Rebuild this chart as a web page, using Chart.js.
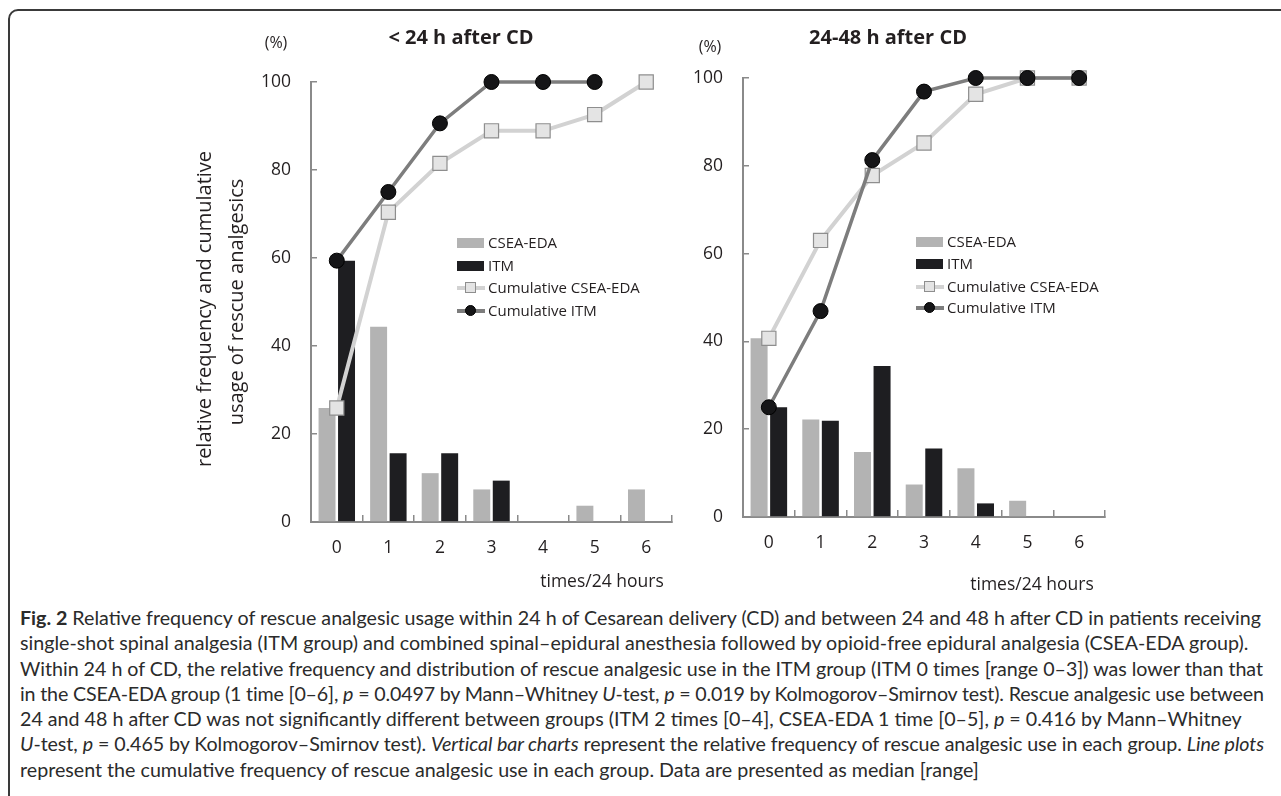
<!DOCTYPE html>
<html>
<head>
<meta charset="utf-8">
<script src="https://cdn.jsdelivr.net/npm/chart.js@4.4.1/dist/chart.umd.min.js"></script>
<style>
  body {
    margin: 0;
    width: 1281px;
    height: 796px;
    background: #fff;
    overflow: hidden;
    position: relative;
    font-family: "Open Sans", sans-serif;
    color: #231f20;
  }
  #frame {
    position: absolute;
    left: 8px;
    top: 9px;
    width: 1400px;
    height: 900px;
    border: 2px solid #3a3a3a;
    border-radius: 10px;
    box-sizing: border-box;
  }
  canvas { position: absolute; top: 0; }
  #chartEarly { left: 0; }
  #chartLate { left: 690px; }
  .legend-item {
    position: absolute;
    height: 20px;
    line-height: 20px;
    font-size: 15px;
    color: #231f20;
    white-space: nowrap;
  }
  .legend-item .sw { position: absolute; left: 0; }
  .legend-item .txt { position: absolute; left: 31px; top: -1px; }
  #caption {
    position: absolute;
    left: 20px;
    top: 605px;
    font-family: Lato, sans-serif;
    font-size: 17px;
    line-height: 25.3px;
    color: #2b2b2b;
  }
  #caption div { white-space: nowrap; }
</style>
</head>
<body>
<div id="frame"></div>
<canvas id="chartEarly" width="690" height="600"></canvas>
<canvas id="chartLate" width="591" height="600"></canvas>
<div id="legends"></div>
<div id="caption">
  <div><b>Fig. 2</b> Relative frequency of rescue analgesic usage within 24 h of Cesarean delivery (CD) and between 24 and 48 h after CD in patients receiving</div>
  <div>single-shot spinal analgesia (ITM group) and combined spinal–epidural anesthesia followed by opioid-free epidural analgesia (CSEA-EDA group).</div>
  <div>Within 24 h of CD, the relative frequency and distribution of rescue analgesic use in the ITM group (ITM 0 times [range 0–3]) was lower than that</div>
  <div>in the CSEA-EDA group (1 time [0–6], <i>p</i> = 0.0497 by Mann–Whitney <i>U</i>-test, <i>p</i> = 0.019 by Kolmogorov–Smirnov test). Rescue analgesic use between</div>
  <div>24 and 48 h after CD was not significantly different between groups (ITM 2 times [0–4], CSEA-EDA 1 time [0–5], <i>p</i> = 0.416 by Mann–Whitney</div>
  <div><i>U</i>-test, <i>p</i> = 0.465 by Kolmogorov–Smirnov test). <i>Vertical bar charts</i> represent the relative frequency of rescue analgesic use in each group. <i>Line plots</i></div>
  <div>represent the cumulative frequency of rescue analgesic use in each group. Data are presented as median [range]</div>
</div>

<script>
"use strict";

// ---------------- data (percent of patients) ----------------
const timesLabels = ["0", "1", "2", "3", "4", "5", "6"];
const seriesNames = ["CSEA-EDA", "ITM", "Cumulative CSEA-EDA", "Cumulative ITM"];

// < 24 h after CD
const earlyCseaRel = [25.9, 44.4, 11.1, 7.4, 0, 3.7, 7.4];
const earlyItmRel = [59.4, 15.6, 15.6, 9.4, 0, 0, 0];
const earlyCseaCum = [25.9, 70.4, 81.5, 88.9, 88.9, 92.6, 100];
const earlyItmCum = [59.4, 75.0, 90.6, 100, 100, 100, null];

// 24-48 h after CD
const lateCseaRel = [40.7, 22.2, 14.8, 7.4, 11.1, 3.7, 0];
const lateItmRel = [25.0, 21.9, 34.4, 15.6, 3.1, 0, 0];
const lateCseaCum = [40.7, 63.0, 77.8, 85.2, 96.3, 100, 100];
const lateItmCum = [25.0, 46.9, 81.3, 96.9, 100, 100, 100];

// ---------------- styling ----------------
const colors = {
    csea: "#b3b3b3",
    itm: "#1e1e21",
    cseaLine: "#d2d2d2",
    cseaPoint: "#e4e4e4",
    cseaPointBorder: "#8e8e8e",
    itmLine: "#7d7d7d",
    itmPoint: "#151517",
    axis: "#8a8a8a",
    text: "#231f20"
};

const fontFamily = "'Open Sans', sans-serif";

// draws titles and axis captions on the canvas
const textPlugin = {
    id: "extraText",
    afterDraw(chart, args, opts) {
        const ctx = chart.ctx;
        ctx.save();
        ctx.fillStyle = colors.text;
        ctx.textBaseline = "middle";
        ctx.textAlign = "center";
        opts.items.forEach(item => {
            ctx.font = item.font;
            if (item.rotate) {
                ctx.save();
                ctx.translate(item.x, item.y);
                ctx.rotate(-Math.PI / 2);
                ctx.fillText(item.text, 0, 0);
                ctx.restore();
            } else {
                ctx.fillText(item.text, item.x, item.y);
            }
        });
        ctx.restore();
    }
};

function buildChart(canvasId, rel1, rel2, cum1, cum2, layout, texts) {
    const canvas = document.getElementById(canvasId);
    return new Chart(canvas, {
        type: "bar",
        data: {
            labels: timesLabels,
            datasets: [
                {
                    label: seriesNames[0],
                    data: rel1,
                    backgroundColor: colors.csea,
                    categoryPercentage: 0.756,
                    barPercentage: 0.87,
                    order: 3
                },
                {
                    label: seriesNames[1],
                    data: rel2,
                    backgroundColor: colors.itm,
                    categoryPercentage: 0.756,
                    barPercentage: 0.87,
                    order: 4
                },
                {
                    type: "line",
                    label: seriesNames[2],
                    data: cum1,
                    borderColor: colors.cseaLine,
                    borderWidth: 4,
                    pointStyle: "rect",
                    pointRadius: 10,
                    pointBackgroundColor: colors.cseaPoint,
                    pointBorderColor: colors.cseaPointBorder,
                    pointBorderWidth: 1.2,
                    clip: false,
                    order: 2
                },
                {
                    type: "line",
                    label: seriesNames[3],
                    data: cum2,
                    borderColor: colors.itmLine,
                    borderWidth: 3.5,
                    pointStyle: "circle",
                    pointRadius: 7.5,
                    pointBackgroundColor: colors.itmPoint,
                    pointBorderColor: "#000",
                    pointBorderWidth: 1,
                    clip: false,
                    order: 1
                }
            ]
        },
        options: {
            responsive: false,
            devicePixelRatio: 1,
            animation: false,
            layout: { padding: layout.padding },
            plugins: {
                legend: { display: false },
                tooltip: { enabled: false },
                extraText: { items: texts }
            },
            scales: {
                x: {
                    offset: true,
                    grid: {
                        offset: true,
                        drawOnChartArea: false,
                        tickLength: -7,
                        color: colors.axis,
                        lineWidth: 1.5
                    },
                    border: { color: colors.axis, width: 2 },
                    ticks: {
                        color: colors.text,
                        padding: 23,
                        font: { family: fontFamily, size: 17.5 }
                    },
                    afterFit: scale => { scale.height = 40; }
                },
                y: {
                    min: 0,
                    max: 100,
                    ticks: {
                        stepSize: 20,
                        color: colors.text,
                        padding: 26,
                        font: { family: fontFamily, size: 17.5 }
                    },
                    grid: {
                        drawOnChartArea: false,
                        tickLength: -6,
                        color: colors.axis,
                        lineWidth: 1.5
                    },
                    border: { color: colors.axis, width: 2 },
                    afterFit: scale => { scale.width = layout.yWidth; }
                }
            }
        },
        plugins: [textPlugin]
    });
}

const titleFont = "bold 20px " + fontFamily;
const labelFont = "16px " + fontFamily;
const xTitleFont = "17.5px " + fontFamily;
const yTitleFont = "20px " + fontFamily;

const earlyChart = buildChart(
    "chartEarly", earlyCseaRel, earlyItmRel, earlyCseaCum, earlyItmCum,
    { padding: { left: 251, right: 18, top: 82, bottom: 38 }, yWidth: 60 },
    [
        { text: "(%)", x: 276, y: 43, font: labelFont },
        { text: "< 24 h after CD", x: 461, y: 38, font: titleFont },
        { text: "relative frequency and cumulative", x: 205, y: 309, font: yTitleFont, rotate: true },
        { text: "usage of rescue analgesics", x: 237, y: 302, font: yTitleFont, rotate: true },
        { text: "times/24 hours", x: 602, y: 582, font: xTitleFont }
    ]
);

const lateChart = buildChart(
    "chartLate", lateCseaRel, lateItmRel, lateCseaCum, lateItmCum,
    { padding: { left: 0, right: 176, top: 78, bottom: 43 }, yWidth: 53 },
    [
        { text: "(%)", x: 20, y: 47, font: labelFont },
        { text: "24-48 h after CD", x: 198, y: 38, font: titleFont },
        { text: "times/24 hours", x: 342, y: 585, font: xTitleFont }
    ]
);

// ---------------- HTML legends ----------------
function addLegend(chart, swatchX, rowsY) {
    const host = document.getElementById("legends");
    chart.data.datasets.forEach((ds, i) => {
        const item = document.createElement("div");
        item.className = "legend-item";
        item.style.left = swatchX + "px";
        item.style.top = (rowsY[i] - 10) + "px";

        const sw = document.createElement("div");
        sw.className = "sw";
        if (ds.type === "line") {
            sw.style.top = "8px";
            sw.style.width = "28px";
            sw.style.height = "4px";
            sw.style.background = ds.borderColor;
            const mark = document.createElement("div");
            mark.style.position = "absolute";
            mark.style.left = "8px";
            mark.style.top = "-4px";
            mark.style.width = "11px";
            mark.style.height = "11px";
            mark.style.boxSizing = "border-box";
            mark.style.background = ds.pointBackgroundColor;
            mark.style.border = "1px solid " + ds.pointBorderColor;
            if (ds.pointStyle === "circle") {
                mark.style.borderRadius = "50%";
            }
            sw.appendChild(mark);
        } else {
            sw.style.top = "5px";
            sw.style.width = "27px";
            sw.style.height = "10px";
            sw.style.background = ds.backgroundColor;
        }
        item.appendChild(sw);

        const txt = document.createElement("span");
        txt.className = "txt";
        txt.textContent = ds.label;
        item.appendChild(txt);
        host.appendChild(item);
    });
}

addLegend(earlyChart, 457, [243, 266, 288, 311]);
addLegend(lateChart, 916, [242, 264, 287, 308]);

// ---------------- caption fitting ----------------
// font size from the first line; any line still too long is tightened a little
const caption = document.getElementById("caption");
const lines = Array.from(caption.children);
const maxWidth = 1262 - 20;

function naturalWidth(el) {
    el.style.display = "inline-block";
    const w = el.getBoundingClientRect().width;
    el.style.display = "block";
    return w;
}

caption.style.fontSize = (17 * maxWidth / naturalWidth(lines[0])).toFixed(2) + "px";
lines.forEach(line => {
    const over = naturalWidth(line) - maxWidth - 2;
    if (over > 0) {
        line.style.letterSpacing = (-over / line.textContent.length).toFixed(3) + "px";
    }
});
</script>
</body>
</html>
